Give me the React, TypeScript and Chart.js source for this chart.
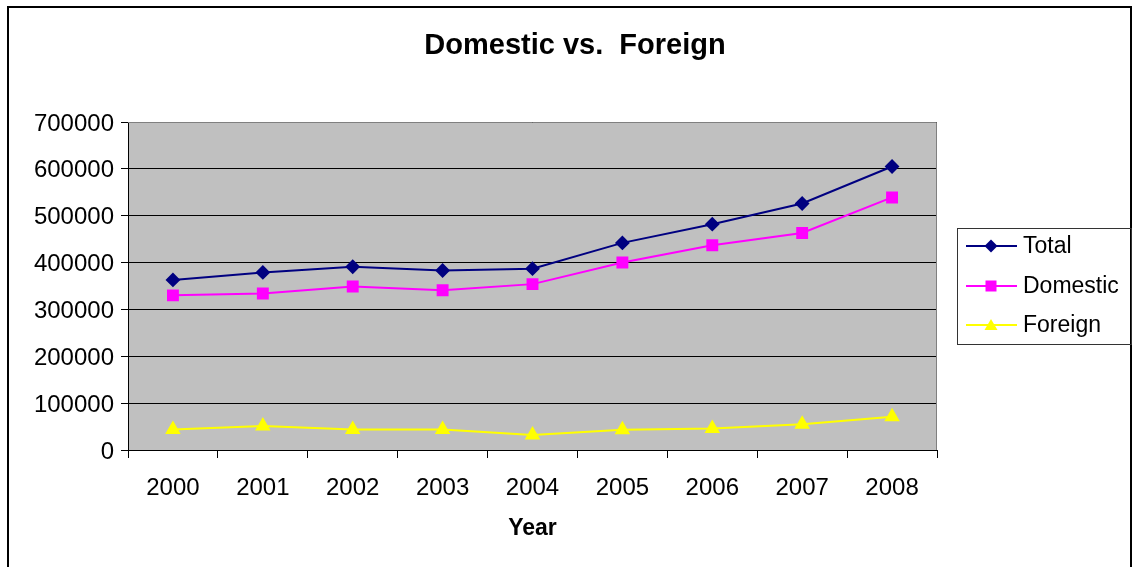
import React, { useEffect, useRef } from "react";
import { Chart, registerables } from "chart.js";

Chart.register(...registerables);

const years = ["2000", "2001", "2002", "2003", "2004", "2005", "2006", "2007", "2008"];
const total = [363000, 379000, 391000, 383000, 387000, 442000, 482000, 526000, 605000];
const domestic = [330000, 334000, 349000, 341000, 354000, 400000, 437000, 463000, 539000];
const foreign = [44000, 51000, 44000, 44000, 32000, 43000, 46000, 55000, 71000];
const seriesNames = ["Total", "Domestic", "Foreign"];
const titleText = "Domestic vs.  Foreign";
const xTitle = "Year";

const FONT = "'Liberation Sans', Arial, sans-serif";

function drawMarker(ctx: CanvasRenderingContext2D, style: string, x: number, y: number, color: string) {
  ctx.save();
  ctx.fillStyle = color;
  ctx.beginPath();
  if (style === "rectRot") {
    const r = 6.5;
    ctx.moveTo(x, y - r);
    ctx.lineTo(x + r, y);
    ctx.lineTo(x, y + r);
    ctx.lineTo(x - r, y);
  } else if (style === "rect") {
    const s = 5.5;
    ctx.rect(x - s, y - s, 2 * s, 2 * s);
  } else {
    ctx.moveTo(x, y - 6);
    ctx.lineTo(x + 6.5, y + 5);
    ctx.lineTo(x - 6.5, y + 5);
  }
  ctx.closePath();
  ctx.fill();
  ctx.restore();
}

const decorPlugin = {
  id: "decor",
  beforeDraw(chart: any) {
    const { ctx, chartArea } = chart;
    ctx.save();
    ctx.fillStyle = "#ffffff";
    ctx.fillRect(0, 0, chart.width, chart.height);
    ctx.fillStyle = "#C0C0C0";
    ctx.fillRect(chartArea.left, chartArea.top, chartArea.right - chartArea.left, chartArea.bottom - chartArea.top);
    ctx.restore();
  },
  beforeDatasetsDraw(chart: any) {
    const { ctx, chartArea } = chart;
    ctx.save();
    ctx.strokeStyle = "#808080";
    ctx.lineWidth = 1;
    ctx.beginPath();
    ctx.moveTo(chartArea.left, chartArea.top + 0.5);
    ctx.lineTo(chartArea.right - 0.5, chartArea.top + 0.5);
    ctx.lineTo(chartArea.right - 0.5, chartArea.bottom);
    ctx.stroke();
    ctx.restore();
  },
  afterDraw(chart: any) {
    const { ctx } = chart;
    ctx.save();
    // outer frame
    ctx.strokeStyle = "#000000";
    ctx.lineWidth = 2;
    ctx.strokeRect(8, 7, 1123, 580);
    // title
    ctx.fillStyle = "#000000";
    ctx.font = `bold 29px ${FONT}`;
    ctx.textAlign = "center";
    ctx.textBaseline = "middle";
    ctx.fillText(titleText, 575, 46);
    // legend
    ctx.lineWidth = 1;
    ctx.strokeStyle = "#333333";
    ctx.strokeRect(957.5, 228.5, 174, 116);
    const ys = [246, 286, 325];
    ctx.font = `23px ${FONT}`;
    ctx.textAlign = "left";
    chart.data.datasets.forEach((ds: any, i: number) => {
      const y = ys[i];
      ctx.strokeStyle = ds.borderColor;
      ctx.lineWidth = 2;
      ctx.beginPath();
      ctx.moveTo(966, y);
      ctx.lineTo(1017, y);
      ctx.stroke();
      drawMarker(ctx, ds.pointStyle, 991, y, ds.borderColor);
      ctx.fillStyle = "#000000";
      ctx.fillText(ds.label, 1023, y + 1);
    });
    ctx.restore();
  },
};

export default function App() {
  const ref = useRef<HTMLCanvasElement | null>(null);
  useEffect(() => {
    document.body.style.margin = "0";
    if (!ref.current) return;
    const chart = new Chart(ref.current, {
      type: "line",
      data: {
        labels: years,
        datasets: [
          { label: seriesNames[0], data: total, borderColor: "#000080", backgroundColor: "#000080", pointStyle: "rectRot", pointRadius: 6, borderWidth: 2 },
          { label: seriesNames[1], data: domestic, borderColor: "#FF00FF", backgroundColor: "#FF00FF", pointStyle: "rect", pointRadius: 7, borderWidth: 2 },
          { label: seriesNames[2], data: foreign, borderColor: "#FFFF00", backgroundColor: "#FFFF00", pointStyle: "triangle", pointRadius: 7, borderWidth: 2 },
        ],
      },
      options: {
        responsive: false,
        animation: false,
        layout: { padding: { left: 0, top: 122, right: 202, bottom: 0 } },
        plugins: { legend: { display: false }, title: { display: false }, tooltip: { enabled: false } },
        elements: { line: { tension: 0 }, point: { borderWidth: 1 } },
        scales: {
          x: {
            offset: true,
            grid: { display: true, drawOnChartArea: false, offset: true, color: "#000000", tickLength: 8, tickColor: "#000000" },
            border: { color: "#000000", width: 1 },
            ticks: { color: "#000000", font: { family: FONT, size: 24 }, padding: 16, maxRotation: 0 },
            title: { display: true, text: xTitle, color: "#000000", font: { family: FONT, size: 23, weight: "bold" }, padding: { top: 0, bottom: 25 } },
            afterFit(scale: any) { scale.height = 117; },
          },
          y: {
            min: 0,
            max: 700000,
            ticks: { stepSize: 100000, color: "#000000", font: { family: FONT, size: 24 }, padding: 7, labelOffset: 2, callback: (v: any) => String(v) },
            grid: { color: "#000000", tickLength: 7, tickColor: "#000000" },
            border: { color: "#000000", width: 1 },
            afterFit(scale: any) { scale.width = 128; },
          },
        },
      },
      plugins: [decorPlugin],
    });
    return () => chart.destroy();
  }, []);
  return (
    <div style={{ width: 1139, height: 567 }}>
      <canvas ref={ref} width={1139} height={567} style={{ display: "block", width: 1139, height: 567 }} />
    </div>
  );
}
